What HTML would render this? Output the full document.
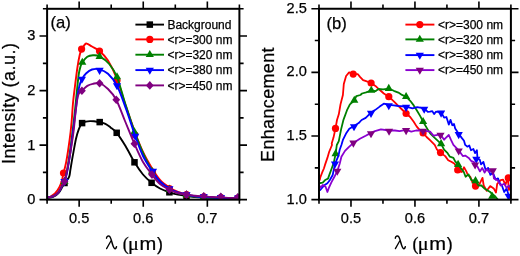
<!DOCTYPE html>
<html><head><meta charset="utf-8"><style>
html,body{margin:0;padding:0;background:#fff;width:520px;height:256px;overflow:hidden}
svg{display:block;will-change:transform;filter:blur(0.3px)}
text{fill:#000;stroke:#000;stroke-width:0.25px}
</style></head><body>
<svg width="520" height="256" viewBox="0 0 520 256">
<defs><clipPath id="ca"><rect x="47.1" y="8.8" width="192.3" height="190.85"/></clipPath><clipPath id="cb"><rect x="319.0" y="8.75" width="191.9" height="190.9"/></clipPath></defs>
<g clip-path="url(#ca)">
<path d="M47.6,198.2 C48.58,197.93 51.68,197.47 53.5,196.6 C55.32,195.73 57.08,194.52 58.5,193 C59.92,191.48 60.96,189.25 62,187.5 C63.04,185.75 63.83,183.83 64.75,182.5 C65.67,181.17 66.72,180.58 67.5,179.5 C68.28,178.42 68.9,177.72 69.4,176 C69.9,174.28 69.92,172.67 70.5,169.2 C71.08,165.73 71.98,160.27 72.9,155.2 C73.82,150.12 75.03,143.05 76,138.75 C76.97,134.45 77.75,131.99 78.75,129.4 C79.75,126.81 80.79,124.5 82,123.2 C83.21,121.9 84.67,121.95 86,121.6 C87.33,121.25 88.67,121.15 90,121.1 C91.33,121.05 92.38,121.12 94,121.3 C95.62,121.48 97.8,121.78 99.7,122.2 C101.6,122.62 103.6,122.93 105.4,123.8 C107.2,124.67 108.62,125.9 110.5,127.4 C112.38,128.9 114.2,129.7 116.7,132.8 C119.2,135.9 122.53,141.08 125.5,146 C128.47,150.92 131.58,157.55 134.5,162.3 C137.42,167.05 140.15,171.08 143,174.5 C145.85,177.92 148.77,180.47 151.6,182.8 C154.43,185.13 157.03,186.92 160,188.5 C162.97,190.08 166.4,191.28 169.4,192.3 C172.4,193.32 175.15,193.98 178,194.6 C180.85,195.22 183.67,195.6 186.5,196 C189.33,196.4 192.12,196.73 195,197 C197.88,197.27 199.48,197.4 203.8,197.6 C208.12,197.8 215.07,198.03 220.9,198.2 C226.73,198.37 235.82,198.53 238.8,198.6" fill="none" stroke="#000" stroke-width="1.9" stroke-linejoin="round"/>
<rect x="61.25" y="179.75" width="6.5" height="6.5" fill="#000"/>
<rect x="78.85" y="119.85" width="6.5" height="6.5" fill="#000"/>
<rect x="96.45" y="118.85" width="6.5" height="6.5" fill="#000"/>
<rect x="113.45" y="129.55" width="6.5" height="6.5" fill="#000"/>
<rect x="131.25" y="159.05" width="6.5" height="6.5" fill="#000"/>
<rect x="148.35" y="179.55" width="6.5" height="6.5" fill="#000"/>
<rect x="166.15" y="189.05" width="6.5" height="6.5" fill="#000"/>
<rect x="183.25" y="192.75" width="6.5" height="6.5" fill="#000"/>
<rect x="200.55" y="194.35" width="6.5" height="6.5" fill="#000"/>
<rect x="217.65" y="194.95" width="6.5" height="6.5" fill="#000"/>
<rect x="235.05" y="195.35" width="6.5" height="6.5" fill="#000"/>
<path d="M47.6,197.5 C48,197.38 48.77,197.47 50,196.8 C51.23,196.13 53.42,195.13 55,193.5 C56.58,191.87 58.33,189.25 59.5,187 C60.67,184.75 61.33,182.33 62,180 C62.67,177.67 62.8,176 63.5,173 C64.2,170 65.18,167.5 66.2,162 C67.22,156.5 68.7,146.67 69.6,140 C70.5,133.33 71.03,128.17 71.6,122 C72.17,115.83 72.43,109 73,103 C73.57,97 74.25,92 75,86 C75.75,80 76.72,72.17 77.5,67 C78.28,61.83 78.97,58.02 79.7,55 C80.43,51.98 81.1,50.57 81.9,48.9 C82.7,47.23 83.7,45.88 84.5,45 C85.3,44.12 85.45,43.35 86.7,43.6 C87.95,43.85 89.85,45.27 92,46.5 C94.15,47.73 96.93,48.65 99.6,51 C102.27,53.35 105.1,55.93 108,60.6 C110.9,65.27 114.08,71.6 117,79 C119.92,86.4 122.58,96.33 125.5,105 C128.42,113.67 131.58,123.17 134.5,131 C137.42,138.83 140.12,145.83 143,152 C145.88,158.17 148.97,163.33 151.8,168 C154.63,172.67 157.08,176.75 160,180 C162.92,183.25 166.3,185.5 169.3,187.5 C172.3,189.5 175.13,190.83 178,192 C180.87,193.17 183.67,193.8 186.5,194.5 C189.33,195.2 192.12,195.77 195,196.2 C197.88,196.63 199.48,196.8 203.8,197.1 C208.12,197.4 215.07,197.78 220.9,198 C226.73,198.22 235.82,198.33 238.8,198.4" fill="none" stroke="#ff0000" stroke-width="1.9" stroke-linejoin="round"/>
<circle cx="63.5" cy="173" r="3.6" fill="#ff0000"/>
<circle cx="81.6" cy="49.1" r="3.6" fill="#ff0000"/>
<circle cx="99.5" cy="51.1" r="3.6" fill="#ff0000"/>
<circle cx="117" cy="80.5" r="3.6" fill="#ff0000"/>
<circle cx="134.8" cy="134.8" r="3.6" fill="#ff0000"/>
<circle cx="152.5" cy="172" r="3.6" fill="#ff0000"/>
<circle cx="169.4" cy="188.5" r="3.6" fill="#ff0000"/>
<circle cx="186.5" cy="194.6" r="3.6" fill="#ff0000"/>
<circle cx="203.8" cy="196.8" r="3.6" fill="#ff0000"/>
<circle cx="220.9" cy="197.6" r="3.6" fill="#ff0000"/>
<circle cx="238" cy="198" r="3.6" fill="#ff0000"/>
<path d="M47.6,197.5 C48.58,197.28 51.68,197.05 53.5,196.2 C55.32,195.35 57.04,194.13 58.5,192.4 C59.96,190.67 61.21,187.7 62.25,185.8 C63.29,183.9 63.88,183.97 64.75,181 C65.62,178.03 66.54,173.5 67.5,168 C68.46,162.5 69.58,154.67 70.5,148 C71.42,141.33 72.25,134.33 73,128 C73.75,121.67 74.33,116.33 75,110 C75.67,103.67 76.37,96 77,90 C77.63,84 78.22,77.92 78.8,74 C79.38,70.08 79.92,68.43 80.5,66.5 C81.08,64.57 81.17,64.02 82.3,62.4 C83.43,60.78 85.52,57.98 87.3,56.8 C89.08,55.62 90.95,55.37 93,55.3 C95.05,55.23 96.9,54.95 99.6,56.4 C102.3,57.85 106.3,60.57 109.2,64 C112.1,67.43 114.28,70.25 117,77 C119.72,83.75 122.58,95.42 125.5,104.5 C128.42,113.58 131.58,123.42 134.5,131.5 C137.42,139.58 140.08,146.42 143,153 C145.92,159.58 149.17,166.17 152,171 C154.83,175.83 157.12,179 160,182 C162.88,185 166.3,187.17 169.3,189 C172.3,190.83 175.13,192 178,193 C180.87,194 183.67,194.42 186.5,195 C189.33,195.58 192.12,196.12 195,196.5 C197.88,196.88 199.48,197.05 203.8,197.3 C208.12,197.55 215.07,197.82 220.9,198 C226.73,198.18 235.82,198.33 238.8,198.4" fill="none" stroke="#008000" stroke-width="1.9" stroke-linejoin="round"/>
<path d="M64.5,176.87 L68.6,183.97 L60.4,183.97Z" fill="#008000"/>
<path d="M82.3,57.67 L86.4,64.77 L78.2,64.77Z" fill="#008000"/>
<path d="M99.6,51.87 L103.7,58.97 L95.5,58.97Z" fill="#008000"/>
<path d="M117,72.27 L121.1,79.37 L112.9,79.37Z" fill="#008000"/>
<path d="M134.4,127.27 L138.5,134.37 L130.3,134.37Z" fill="#008000"/>
<path d="M152,166.77 L156.1,173.87 L147.9,173.87Z" fill="#008000"/>
<path d="M169.4,184.57 L173.5,191.67 L165.3,191.67Z" fill="#008000"/>
<path d="M186.5,190.27 L190.6,197.37 L182.4,197.37Z" fill="#008000"/>
<path d="M203.8,192.27 L207.9,199.37 L199.7,199.37Z" fill="#008000"/>
<path d="M220.9,192.87 L225,199.97 L216.8,199.97Z" fill="#008000"/>
<path d="M238,193.27 L242.1,200.37 L233.9,200.37Z" fill="#008000"/>
<path d="M47.6,197.5 C48.58,197.28 51.68,197.05 53.5,196.2 C55.32,195.35 57.04,194.17 58.5,192.4 C59.96,190.63 61.21,187.43 62.25,185.6 C63.29,183.77 63.88,184 64.75,181.4 C65.62,178.8 66.54,175.07 67.5,170 C68.46,164.93 69.55,157.67 70.5,151 C71.45,144.33 72.37,136.5 73.2,130 C74.03,123.5 74.78,117.67 75.5,112 C76.22,106.33 76.83,100.42 77.5,96 C78.17,91.58 78.77,88.32 79.5,85.5 C80.23,82.68 80.82,81.1 81.9,79.1 C82.98,77.1 84.32,75.1 86,73.5 C87.68,71.9 89.73,70.2 92,69.5 C94.27,68.8 96.93,68.58 99.6,69.3 C102.27,70.02 105.1,71.08 108,73.8 C110.9,76.52 113.93,79.57 117,85.6 C120.07,91.63 123.37,101.6 126.4,110 C129.43,118.4 132.43,128.33 135.2,136 C137.97,143.67 140.12,150.08 143,156 C145.88,161.92 149.67,167.25 152.5,171.5 C155.33,175.75 157.2,178.67 160,181.5 C162.8,184.33 166.3,186.67 169.3,188.5 C172.3,190.33 175.13,191.45 178,192.5 C180.87,193.55 183.67,194.17 186.5,194.8 C189.33,195.43 192.12,195.92 195,196.3 C197.88,196.68 199.48,196.82 203.8,197.1 C208.12,197.38 215.07,197.78 220.9,198 C226.73,198.22 235.82,198.33 238.8,198.4" fill="none" stroke="#0000ff" stroke-width="1.9" stroke-linejoin="round"/>
<path d="M64.5,186.13 L68.6,179.03 L60.4,179.03Z" fill="#0000ff"/>
<path d="M81.9,83.83 L86,76.73 L77.8,76.73Z" fill="#0000ff"/>
<path d="M99.6,74.93 L103.7,67.83 L95.5,67.83Z" fill="#0000ff"/>
<path d="M117,90.33 L121.1,83.23 L112.9,83.23Z" fill="#0000ff"/>
<path d="M135.2,140.73 L139.3,133.63 L131.1,133.63Z" fill="#0000ff"/>
<path d="M153,175.73 L157.1,168.63 L148.9,168.63Z" fill="#0000ff"/>
<path d="M169.4,193.33 L173.5,186.23 L165.3,186.23Z" fill="#0000ff"/>
<path d="M186.5,199.23 L190.6,192.13 L182.4,192.13Z" fill="#0000ff"/>
<path d="M203.8,201.23 L207.9,194.13 L199.7,194.13Z" fill="#0000ff"/>
<path d="M220.9,202.03 L225,194.93 L216.8,194.93Z" fill="#0000ff"/>
<path d="M238,202.53 L242.1,195.43 L233.9,195.43Z" fill="#0000ff"/>
<path d="M47.6,197.5 C48.58,197.27 51.68,196.95 53.5,196.1 C55.32,195.25 57.04,194.17 58.5,192.4 C59.96,190.63 61.21,187.37 62.25,185.5 C63.29,183.63 63.92,183.78 64.75,181.2 C65.58,178.62 66.24,174.87 67.2,170 C68.16,165.13 69.45,158.33 70.5,152 C71.55,145.67 72.67,138.5 73.5,132 C74.33,125.5 74.92,118.17 75.5,113 C76.08,107.83 76.48,104.17 77,101 C77.52,97.83 77.78,95.72 78.6,94 C79.42,92.28 80.45,92.05 81.9,90.7 C83.35,89.35 85.48,87.03 87.3,85.9 C89.12,84.77 90.75,84.35 92.8,83.9 C94.85,83.45 97.07,82.35 99.6,83.2 C102.13,84.05 105.22,86.25 108,89 C110.78,91.75 113.42,94.37 116.25,99.7 C119.08,105.03 121.97,113.66 125,121 C128.03,128.34 131.4,136.92 134.4,143.75 C137.4,150.58 140.07,156.86 143,162 C145.93,167.14 149.17,170.93 152,174.6 C154.83,178.27 157.1,181.5 160,184 C162.9,186.5 166.4,188.1 169.4,189.6 C172.4,191.1 175.15,192.17 178,193 C180.85,193.83 183.67,194.13 186.5,194.6 C189.33,195.07 192.12,195.5 195,195.8 C197.88,196.1 200.97,196.2 203.8,196.4 C206.63,196.6 209.15,196.87 212,197 C214.85,197.13 217.9,197.03 220.9,197.2 C223.9,197.37 227.02,197.83 230,198 C232.98,198.17 237.33,198.17 238.8,198.2" fill="none" stroke="#800080" stroke-width="1.9" stroke-linejoin="round"/>
<path d="M64.5,177.1 L68.4,181.4 L64.5,185.7 L60.6,181.4Z" fill="#800080"/>
<path d="M81.9,86.4 L85.8,90.7 L81.9,95 L78,90.7Z" fill="#800080"/>
<path d="M99.6,78.9 L103.5,83.2 L99.6,87.5 L95.7,83.2Z" fill="#800080"/>
<path d="M116.25,95.4 L120.15,99.7 L116.25,104 L112.35,99.7Z" fill="#800080"/>
<path d="M134.4,139.45 L138.3,143.75 L134.4,148.05 L130.5,143.75Z" fill="#800080"/>
<path d="M152,170.3 L155.9,174.6 L152,178.9 L148.1,174.6Z" fill="#800080"/>
<path d="M169.4,185.3 L173.3,189.6 L169.4,193.9 L165.5,189.6Z" fill="#800080"/>
<path d="M186.5,190.3 L190.4,194.6 L186.5,198.9 L182.6,194.6Z" fill="#800080"/>
<path d="M203.8,192 L207.7,196.3 L203.8,200.6 L199.9,196.3Z" fill="#800080"/>
<path d="M220.8,192.5 L224.7,196.8 L220.8,201.1 L216.9,196.8Z" fill="#800080"/>
<path d="M237.8,192.9 L241.7,197.2 L237.8,201.5 L233.9,197.2Z" fill="#800080"/>
</g>
<g clip-path="url(#cb)">
<path d="M319.3,180.5 L319.8,179.7 L320.3,177.4 L322.1,172.7 L323.9,168.5 L325,164.9 L327.4,157.9 L329.1,152 L332,145 L331.7,143.4 L333.5,137.6 L335.5,128.4 L337,120 L338.8,114.3 L340.5,104.4 L342.9,95 L343.8,84 L346.1,76 L349.1,72.4 L353.2,73.8 L357.9,74.2 L360.2,77.1 L363.1,80.1 L366.1,81.2 L371.1,83 L375.4,85.9 L379.6,89.8 L383.8,93.5 L388.8,96.7 L393.8,101.3 L397.3,104.9 L402,109.5 L406.1,113.5 L410.2,117 L413.7,121.7 L416.6,126.4 L419.5,129.9 L423.1,132.9 L426.6,137 L430,140.2 L434.7,144.9 L437,149.6 L440.5,152.6 L445.2,156.1 L448.2,160.2 L451.7,162 L454.6,163.8 L457.7,170 L461.7,172 L464,167.3 L466.3,171.4 L467.9,175 L470.2,176.7 L472.6,182.6 L475.5,186.1 L479.6,183.8 L482.5,177.9 L483.7,185.5 L486.7,190.8 L490.2,186.1 L493.7,188.4 L496,192.5 L497.2,183.8 L500.7,180.2 L503.1,179.7 L505.4,184.9 L507.8,177.9 L508.9,190 L510.6,186" fill="none" stroke="#ff0000" stroke-width="1.8" stroke-linejoin="round"/>
<circle cx="335.5" cy="128.4" r="3.6" fill="#ff0000"/>
<circle cx="353.2" cy="74.1" r="3.6" fill="#ff0000"/>
<circle cx="371.1" cy="83" r="3.6" fill="#ff0000"/>
<circle cx="388.8" cy="96.7" r="3.6" fill="#ff0000"/>
<circle cx="406.1" cy="113.5" r="3.6" fill="#ff0000"/>
<circle cx="423.1" cy="132.9" r="3.6" fill="#ff0000"/>
<circle cx="440.5" cy="152.6" r="3.6" fill="#ff0000"/>
<circle cx="457.7" cy="170" r="3.6" fill="#ff0000"/>
<circle cx="475.5" cy="186.1" r="3.6" fill="#ff0000"/>
<circle cx="508.3" cy="177.9" r="3.6" fill="#ff0000"/>
<path d="M319.3,183.5 L320.5,183 L322.7,182.7 L324.4,180.9 L325.6,179.7 L328,178.6 L329.7,173.9 L331.5,169 L333.8,162.6 L335.6,153.8 L336.8,145 L338.8,141.1 L341.1,129.4 L343.4,120 L344,118.4 L347,110.2 L349.9,104.4 L354.3,100.5 L356.3,96.2 L360.4,95 L362,93.5 L366.1,92.4 L371.3,90.5 L375.4,91.2 L378.5,89 L383.1,89.4 L388.8,88.6 L393.8,90.8 L398.4,92.6 L402,94.9 L406.1,96.7 L410.2,100.8 L413.7,105.4 L416.6,110 L420.1,115.9 L423.1,121.7 L426.6,127.6 L430.1,133.4 L434.7,137.9 L441.1,143.8 L444.1,149.7 L447.6,153.2 L449.9,156.7 L453.4,157.9 L455.2,161.4 L458.1,164.6 L461.1,168.4 L463.8,172 L465.6,176.7 L468.5,174.4 L471.4,180.2 L475.5,180.8 L478.4,185.5 L481.4,185.5 L484.3,188.4 L487.2,190.2 L490.2,192 L492.5,194.3 L494.9,196 L497,198.5 L499,201" fill="none" stroke="#008000" stroke-width="1.8" stroke-linejoin="round"/>
<path d="M335.6,149.07 L339.7,156.17 L331.5,156.17Z" fill="#008000"/>
<path d="M354.3,95.77 L358.4,102.87 L350.2,102.87Z" fill="#008000"/>
<path d="M371.3,85.77 L375.4,92.87 L367.2,92.87Z" fill="#008000"/>
<path d="M388.8,83.87 L392.9,90.97 L384.7,90.97Z" fill="#008000"/>
<path d="M406.1,91.97 L410.2,99.07 L402,99.07Z" fill="#008000"/>
<path d="M423.1,116.97 L427.2,124.07 L419,124.07Z" fill="#008000"/>
<path d="M441.1,139.07 L445.2,146.17 L437,146.17Z" fill="#008000"/>
<path d="M458.1,159.87 L462.2,166.97 L454,166.97Z" fill="#008000"/>
<path d="M475.5,176.07 L479.6,183.17 L471.4,183.17Z" fill="#008000"/>
<path d="M492.2,191.77 L496.3,198.87 L488.1,198.87Z" fill="#008000"/>
<path d="M319.5,190.5 L319.8,190.3 L320.9,189.1 L323.9,185.6 L327.4,183.2 L329.7,180.3 L332.7,175 L333.8,169.6 L335,163.8 L338.5,155.6 L339.7,149.7 L341.4,145 L342.9,139.9 L346.4,132.9 L349.3,128.8 L354,125.9 L358.7,123.1 L361.6,120 L365.7,117.9 L371,112.6 L375,110.1 L379.7,106.6 L383.8,103.7 L388.8,104.9 L393.8,105.4 L398.4,106 L406.1,106.6 L412.5,108.4 L417.2,107.2 L424.2,108.4 L427.8,111.8 L430,111.7 L432.3,111.1 L434.1,114.1 L435.9,111.7 L441.1,112.3 L444.1,117.6 L446.4,117 L448.8,124.6 L450.5,119.9 L452.3,125.2 L454,124 L455.2,128.5 L458.7,133.8 L461.7,137.9 L464,140.8 L465.2,144.9 L467.5,146.7 L469.3,145.5 L471,150.2 L473.4,149 L475.1,153.1 L476.9,150.2 L477.5,158.5 L479.8,159.7 L481,164.4 L483.4,162 L485.7,170.2 L488.1,167.9 L490.4,174.9 L492.8,172.6 L495.7,179.6 L498,178.4 L499.8,183.1 L501.9,185.5 L504.2,192 L506.6,188.4 L508.9,196 L510.6,197" fill="none" stroke="#0000ff" stroke-width="1.8" stroke-linejoin="round"/>
<path d="M335,168.53 L339.1,161.43 L330.9,161.43Z" fill="#0000ff"/>
<path d="M354,131.23 L358.1,124.13 L349.9,124.13Z" fill="#0000ff"/>
<path d="M371,117.93 L375.1,110.83 L366.9,110.83Z" fill="#0000ff"/>
<path d="M388.8,110.23 L392.9,103.13 L384.7,103.13Z" fill="#0000ff"/>
<path d="M406.1,111.93 L410.2,104.83 L402,104.83Z" fill="#0000ff"/>
<path d="M424.2,113.73 L428.3,106.63 L420.1,106.63Z" fill="#0000ff"/>
<path d="M441.1,117.63 L445.2,110.53 L437,110.53Z" fill="#0000ff"/>
<path d="M458.7,139.13 L462.8,132.03 L454.6,132.03Z" fill="#0000ff"/>
<path d="M476.3,163.73 L480.4,156.63 L472.2,156.63Z" fill="#0000ff"/>
<path d="M508.6,200.73 L512.7,193.63 L504.5,193.63Z" fill="#0000ff"/>
<path d="M319.5,186 L319.8,186.2 L320.9,187.3 L322.7,185 L325.6,186.8 L327.4,192 L329.1,187.3 L331.5,182.1 L334.4,176.8 L337.3,171 L339.7,163.8 L341.4,156.7 L345,150.9 L348.5,147.3 L353.4,142.9 L359.9,138.8 L365.7,135.8 L371,132.9 L375,131.1 L380.9,129.3 L389.1,130.5 L394.9,130.5 L399.6,131.1 L406.1,129.9 L411.3,131.7 L416,130.5 L423.1,130.5 L430.1,131.7 L433.5,135.6 L440.5,134.4 L444.1,139.7 L445.8,137.9 L448.8,135 L451.1,140.2 L453.4,144.9 L458.7,150.3 L462.8,156.1 L465.2,155.6 L468.7,157.9 L471,160.8 L474,162 L475.1,164.3 L477.5,166.7 L479.9,171.4 L482.2,167.9 L484.6,172.6 L486.9,169.1 L489,172 L492.8,170.2 L493.9,178.4 L497.4,180.2 L498.4,181.4 L500.7,185.5 L504.2,183.8 L506.6,187.9 L508.9,185.5 L510.6,188" fill="none" stroke="#8a00d0" stroke-width="1.8" stroke-linejoin="round"/>
<path d="M337.3,175.73 L341.4,168.63 L333.2,168.63Z" fill="#800080"/>
<path d="M353.4,147.63 L357.5,140.53 L349.3,140.53Z" fill="#800080"/>
<path d="M371,138.23 L375.1,131.13 L366.9,131.13Z" fill="#800080"/>
<path d="M389.1,135.73 L393.2,128.63 L385,128.63Z" fill="#800080"/>
<path d="M406.1,135.13 L410.2,128.03 L402,128.03Z" fill="#800080"/>
<path d="M423.1,135.73 L427.2,128.63 L419,128.63Z" fill="#800080"/>
<path d="M440.5,139.73 L444.6,132.63 L436.4,132.63Z" fill="#800080"/>
<path d="M458.7,155.53 L462.8,148.43 L454.6,148.43Z" fill="#800080"/>
<path d="M475.1,169.53 L479.2,162.43 L471,162.43Z" fill="#800080"/>
<path d="M492.8,175.33 L496.9,168.23 L488.7,168.23Z" fill="#800080"/>
</g>
<rect x="47.1" y="8.8" width="192.3" height="190.85" fill="none" stroke="#000" stroke-width="2"/>
<path d="M79.15,199.65 V206.85 M79.15,8.8 V1.6" stroke="#000" stroke-width="1.6"/>
<path d="M143.25,199.65 V206.85 M143.25,8.8 V1.6" stroke="#000" stroke-width="1.6"/>
<path d="M207.35,199.65 V206.85 M207.35,8.8 V1.6" stroke="#000" stroke-width="1.6"/>
<path d="M47.1,199.65 V203.85 M47.1,8.8 V4.6" stroke="#000" stroke-width="1.6"/>
<path d="M111.2,199.65 V203.85 M111.2,8.8 V4.6" stroke="#000" stroke-width="1.6"/>
<path d="M175.3,199.65 V203.85 M175.3,8.8 V4.6" stroke="#000" stroke-width="1.6"/>
<path d="M239.4,199.65 V203.85 M239.4,8.8 V4.6" stroke="#000" stroke-width="1.6"/>
<path d="M47.1,199.65 H39.5 M239.4,199.65 H247" stroke="#000" stroke-width="1.6"/>
<path d="M47.1,145.12 H39.5 M239.4,145.12 H247" stroke="#000" stroke-width="1.6"/>
<path d="M47.1,90.59 H39.5 M239.4,90.59 H247" stroke="#000" stroke-width="1.6"/>
<path d="M47.1,36.06 H39.5 M239.4,36.06 H247" stroke="#000" stroke-width="1.6"/>
<path d="M47.1,172.39 H42.9 M239.4,172.39 H243.6" stroke="#000" stroke-width="1.6"/>
<path d="M47.1,117.86 H42.9 M239.4,117.86 H243.6" stroke="#000" stroke-width="1.6"/>
<path d="M47.1,63.33 H42.9 M239.4,63.33 H243.6" stroke="#000" stroke-width="1.6"/>
<path d="M47.1,8.8 H42.9 M239.4,8.8 H243.6" stroke="#000" stroke-width="1.6"/>
<rect x="319.0" y="8.75" width="191.9" height="190.9" fill="none" stroke="#000" stroke-width="2"/>
<path d="M350.98,199.65 V206.85 M350.98,8.75 V1.55" stroke="#000" stroke-width="1.6"/>
<path d="M414.95,199.65 V206.85 M414.95,8.75 V1.55" stroke="#000" stroke-width="1.6"/>
<path d="M478.92,199.65 V206.85 M478.92,8.75 V1.55" stroke="#000" stroke-width="1.6"/>
<path d="M319,199.65 V203.85 M319,8.75 V4.55" stroke="#000" stroke-width="1.6"/>
<path d="M382.97,199.65 V203.85 M382.97,8.75 V4.55" stroke="#000" stroke-width="1.6"/>
<path d="M446.93,199.65 V203.85 M446.93,8.75 V4.55" stroke="#000" stroke-width="1.6"/>
<path d="M510.9,199.65 V203.85 M510.9,8.75 V4.55" stroke="#000" stroke-width="1.6"/>
<path d="M319.0,199.65 H311.4 M510.9,199.65 H518.5" stroke="#000" stroke-width="1.6"/>
<path d="M319.0,136.02 H311.4 M510.9,136.02 H518.5" stroke="#000" stroke-width="1.6"/>
<path d="M319.0,72.38 H311.4 M510.9,72.38 H518.5" stroke="#000" stroke-width="1.6"/>
<path d="M319.0,8.75 H311.4 M510.9,8.75 H518.5" stroke="#000" stroke-width="1.6"/>
<path d="M319.0,167.83 H314.8 M510.9,167.83 H515.1" stroke="#000" stroke-width="1.6"/>
<path d="M319.0,104.2 H314.8 M510.9,104.2 H515.1" stroke="#000" stroke-width="1.6"/>
<path d="M319.0,40.57 H314.8 M510.9,40.57 H515.1" stroke="#000" stroke-width="1.6"/>
<text x="79.15" y="223" font-family="Liberation Sans, sans-serif" font-size="14.6" text-anchor="middle">0.5</text>
<text x="350.98" y="223" font-family="Liberation Sans, sans-serif" font-size="14.6" text-anchor="middle">0.5</text>
<text x="143.25" y="223" font-family="Liberation Sans, sans-serif" font-size="14.6" text-anchor="middle">0.6</text>
<text x="414.95" y="223" font-family="Liberation Sans, sans-serif" font-size="14.6" text-anchor="middle">0.6</text>
<text x="207.35" y="223" font-family="Liberation Sans, sans-serif" font-size="14.6" text-anchor="middle">0.7</text>
<text x="478.92" y="223" font-family="Liberation Sans, sans-serif" font-size="14.6" text-anchor="middle">0.7</text>
<text x="35.3" y="204.05" font-family="Liberation Sans, sans-serif" font-size="14.6" text-anchor="end">0</text>
<text x="35.3" y="149.52" font-family="Liberation Sans, sans-serif" font-size="14.6" text-anchor="end">1</text>
<text x="35.3" y="94.99" font-family="Liberation Sans, sans-serif" font-size="14.6" text-anchor="end">2</text>
<text x="35.3" y="40.46" font-family="Liberation Sans, sans-serif" font-size="14.6" text-anchor="end">3</text>
<text x="306.9" y="203.55" font-family="Liberation Sans, sans-serif" font-size="14.6" text-anchor="end">1.0</text>
<text x="306.9" y="139.92" font-family="Liberation Sans, sans-serif" font-size="14.6" text-anchor="end">1.5</text>
<text x="306.9" y="76.28" font-family="Liberation Sans, sans-serif" font-size="14.6" text-anchor="end">2.0</text>
<text x="306.9" y="12.65" font-family="Liberation Sans, sans-serif" font-size="14.6" text-anchor="end">2.5</text>
<text x="50.4" y="27.9" font-family="Liberation Sans, sans-serif" font-size="16.6">(a)</text>
<text x="326.6" y="28.6" font-family="Liberation Sans, sans-serif" font-size="16.6">(b)</text>
<text transform="translate(15.2,103.6) rotate(-90)" font-family="Liberation Sans, sans-serif" font-size="18" text-anchor="middle" textLength="121" lengthAdjust="spacing">Intensity (a.u.)</text>
<text transform="translate(273.6,104.7) rotate(-90)" font-family="Liberation Sans, sans-serif" font-size="18" text-anchor="middle" textLength="114.5" lengthAdjust="spacing">Enhancement</text>
<g transform="translate(0,0)">
<path d="M106.5,238.2 C106.8,236.2 108.5,235.2 109.8,236.6 C111,238 111.8,242 112.6,244.5 C113.4,247 114.2,249 115.2,248.8 C115.9,248.6 116.3,247.6 116.5,246.8" fill="none" stroke="#000" stroke-width="1.45" stroke-linecap="round"/>
<path d="M110.9,241 L106.6,248.6" fill="none" stroke="#000" stroke-width="1.3" stroke-linecap="round"/>
</g>
<g transform="translate(0.4,0)">
<text x="122.3" y="249.5" font-size="18" font-family="Liberation Serif, serif">(</text>
<text transform="translate(127.6,249.5) scale(1.12,1)" font-size="18" font-family="Liberation Serif, serif">μ</text>
<text transform="translate(139.0,249.5) scale(1.12,1)" font-size="18" font-family="Liberation Sans, sans-serif">m</text>
<text x="156.5" y="249.5" font-size="18" font-family="Liberation Sans, sans-serif">)</text>
</g>
<g transform="translate(288.8,0)">
<path d="M106.5,238.2 C106.8,236.2 108.5,235.2 109.8,236.6 C111,238 111.8,242 112.6,244.5 C113.4,247 114.2,249 115.2,248.8 C115.9,248.6 116.3,247.6 116.5,246.8" fill="none" stroke="#000" stroke-width="1.45" stroke-linecap="round"/>
<path d="M110.9,241 L106.6,248.6" fill="none" stroke="#000" stroke-width="1.3" stroke-linecap="round"/>
</g>
<g transform="translate(290.2,0)">
<text x="122.3" y="249.5" font-size="18" font-family="Liberation Serif, serif">(</text>
<text transform="translate(127.6,249.5) scale(1.12,1)" font-size="18" font-family="Liberation Serif, serif">μ</text>
<text transform="translate(139.0,249.5) scale(1.12,1)" font-size="18" font-family="Liberation Sans, sans-serif">m</text>
<text x="156.5" y="249.5" font-size="18" font-family="Liberation Sans, sans-serif">)</text>
</g>
<path d="M135.4,24.6 H164" stroke="#000" stroke-width="1.9"/>
<rect x="146.55" y="21.35" width="6.5" height="6.5" fill="#000"/>
<text x="167.4" y="28.9" font-family="Liberation Sans, sans-serif" font-size="12">Background</text>
<path d="M135.4,39.4 H164" stroke="#ff0000" stroke-width="1.9"/>
<circle cx="149.8" cy="39.4" r="3.6" fill="#ff0000"/>
<text x="167.4" y="43.7" font-family="Liberation Sans, sans-serif" font-size="12">&lt;r&gt;=300 nm</text>
<path d="M135.4,54.7 H164" stroke="#008000" stroke-width="1.9"/>
<path d="M149.8,49.97 L153.9,57.07 L145.7,57.07Z" fill="#008000"/>
<text x="167.4" y="59" font-family="Liberation Sans, sans-serif" font-size="12">&lt;r&gt;=320 nm</text>
<path d="M135.4,70.1 H164" stroke="#0000ff" stroke-width="1.9"/>
<path d="M149.8,74.83 L153.9,67.73 L145.7,67.73Z" fill="#0000ff"/>
<text x="167.4" y="74.4" font-family="Liberation Sans, sans-serif" font-size="12">&lt;r&gt;=380 nm</text>
<path d="M135.4,85.4 H164" stroke="#800080" stroke-width="1.9"/>
<path d="M149.8,81.1 L153.7,85.4 L149.8,89.7 L145.9,85.4Z" fill="#800080"/>
<text x="167.4" y="89.7" font-family="Liberation Sans, sans-serif" font-size="12">&lt;r&gt;=450 nm</text>
<path d="M405.4,24.6 H434.4" stroke="#ff0000" stroke-width="1.9"/>
<circle cx="419.8" cy="24.6" r="3.6" fill="#ff0000"/>
<text x="438" y="28.9" font-family="Liberation Sans, sans-serif" font-size="12">&lt;r&gt;=300 nm</text>
<path d="M405.4,39.4 H434.4" stroke="#008000" stroke-width="1.9"/>
<path d="M419.8,34.67 L423.9,41.77 L415.7,41.77Z" fill="#008000"/>
<text x="438" y="43.7" font-family="Liberation Sans, sans-serif" font-size="12">&lt;r&gt;=320 nm</text>
<path d="M405.4,55.1 H434.4" stroke="#0000ff" stroke-width="1.9"/>
<path d="M419.8,59.83 L423.9,52.73 L415.7,52.73Z" fill="#0000ff"/>
<text x="438" y="59.4" font-family="Liberation Sans, sans-serif" font-size="12">&lt;r&gt;=380 nm</text>
<path d="M405.4,70.1 H434.4" stroke="#8a00d0" stroke-width="1.9"/>
<path d="M419.8,74.83 L423.9,67.73 L415.7,67.73Z" fill="#800080"/>
<text x="438" y="74.4" font-family="Liberation Sans, sans-serif" font-size="12">&lt;r&gt;=450 nm</text>
</svg>
</body></html>
